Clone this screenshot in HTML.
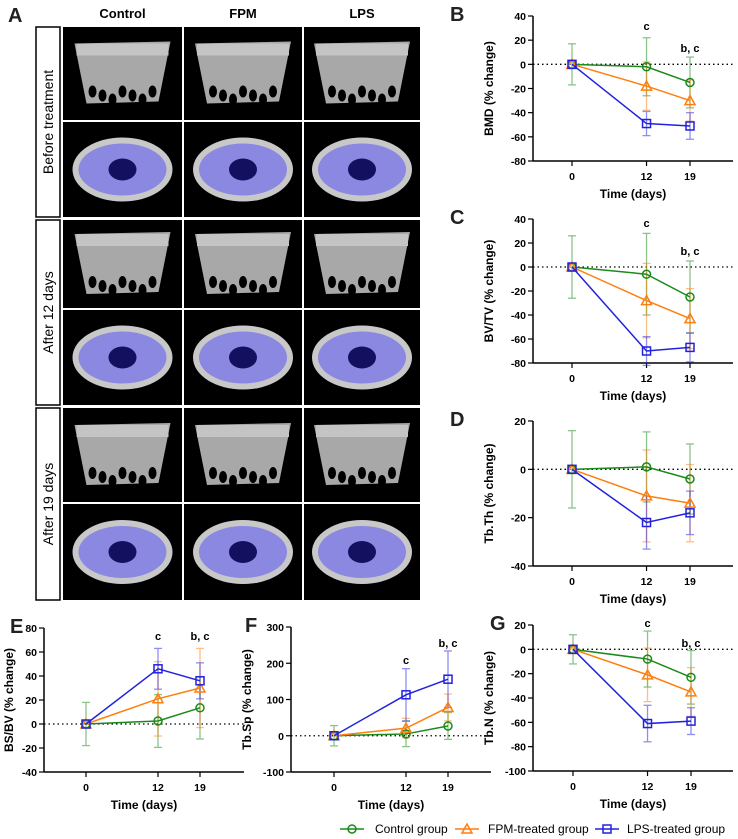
<!DOCTYPE html>
<html><head><meta charset="utf-8"><style>
body{margin:0;background:#fff;}
svg{display:block;font-family:"Liberation Sans",Arial,sans-serif;}
</style></head><body>
<svg id="fig" width="738" height="839" viewBox="0 0 738 839">
<g id="panelA"></g>
<g id="charts"></g>
<g id="legend" font-size="12">
 <g><line x1="340" y1="829" x2="364" y2="829" stroke="#1a8a1a" stroke-width="1.5"/><circle cx="352" cy="829" r="4" fill="none" stroke="#1a8a1a" stroke-width="1.5"/><text x="375" y="833">Control group</text></g>
 <g><line x1="455" y1="829" x2="479" y2="829" stroke="#ff7f0e" stroke-width="1.5"/><path d="M462,833 L467,824 L472,833 Z" fill="none" stroke="#ff7f0e" stroke-width="1.5"/><text x="488" y="833">FPM-treated group</text></g>
 <g><line x1="595" y1="829" x2="619" y2="829" stroke="#2222dd" stroke-width="1.5"/><rect x="603" y="825" width="8" height="8" fill="none" stroke="#2222dd" stroke-width="1.5"/><text x="627" y="833">LPS-treated group</text></g>
</g>
</svg>
<script>
const NS="http://www.w3.org/2000/svg";
function mk(tag,attrs,parent,txt){const e=document.createElementNS(NS,tag);for(const k in attrs)e.setAttribute(k,attrs[k]);if(txt!==undefined)e.textContent=txt;parent.appendChild(e);return e;}

// ---------- Panel A ----------
const A=document.getElementById('panelA');
let t=mk('text',{x:8,y:22,'font-size':20,'font-weight':'bold',fill:'#222'},A,'A');


const colNames=['Control','FPM','LPS'];
const colX=[63,184,304],colW=[119,118,116];
colNames.forEach((n,i)=>{const h=mk('text',{x:colX[i]+colW[i]/2,y:18,'font-size':13,'font-weight':'bold','text-anchor':'middle'},A,n);

});
const rowY=[[27,120],[122,217],[220,308],[310,405],[408,502],[504,600]];
const groups=[['Before treatment',27,217],['After 12 days',220,405],['After 19 days',408,600]];
groups.forEach((g,i)=>{const b=mk('rect',{x:36,y:g[1],width:24,height:g[2]-g[1],fill:'#fff',stroke:'#000','stroke-width':1.5},A);


const cy=(g[1]+g[2])/2;const tt=mk('text',{x:0,y:0,'font-size':14,'text-anchor':'middle',transform:`translate(53,${cy}) rotate(-90)`},A,g[0]);

});
rowY.forEach((r,ri)=>{colX.forEach((cx,ci)=>{
 const bg=mk('rect',{x:cx,y:r[0],width:colW[ci],height:r[1]-r[0],fill:'#000'},A);
 
 
 const mx=cx+colW[ci]/2,my=(r[0]+r[1])/2;
 if(ri%2===0){
  mk('path',{d:`M${mx-48},${my-30} L${mx+48},${my-32} L${mx+36},${my+28} L${mx-36},${my+30} Z`,fill:'#a8a8a8'},A);
  mk('rect',{x:mx-46,y:my-30,width:92,height:12,fill:'#c4c4c4'},A);
  for(let k=0;k<7;k++)mk('ellipse',{cx:mx-30+k*10,cy:my+18+(k%3)*4,rx:4,ry:6,fill:'#000'},A);
 }else{
  mk('ellipse',{cx:mx,cy:my,rx:50,ry:32,fill:'#c8c8c8'},A);
  mk('ellipse',{cx:mx,cy:my,rx:44,ry:26,fill:'#8a88e0'},A);
  mk('ellipse',{cx:mx,cy:my,rx:14,ry:11,fill:'#141060'},A);
 }
});});
[183,303].forEach(x=>mk('line',{x1:x,y1:27,x2:x,y2:600,stroke:'#fff','stroke-width':2},A));

// ---------- Chart data ----------
const days=[0,12,19];
const bmdCtrl=[0,-2,-15], bmdCtrlErr=[17,24,21];
const bmdFpm=[0,-18,-30], bmdFpmErr=[0,20,17];
const bmdLps=[0,-49,-51], bmdLpsErr=[0,10,11];
const bvCtrl=[0,-6,-25], bvCtrlErr=[26,34,30];
const bvFpm=[0,-28,-43], bvFpmErr=[0,31,25];
const bvLps=[0,-70,-67], bvLpsErr=[0,12,12];
const thCtrl=[0,1,-4], thCtrlErr=[16,14.5,14.5];
const thFpm=[0,-11,-14], thFpmErr=[0,19,16];
const thLps=[0,-22,-18], thLpsErr=[0,11,9];
const bsCtrl=[0,2.5,13.5], bsCtrlErr=[18,22,26];
const bsFpm=[0,21,30], bsFpmErr=[0,31,33];
const bsLps=[0,46,36], bsLpsErr=[0,17,15];
const spCtrl=[0,5,27], spCtrlErr=[28,35,37];
const spFpm=[0,21,78], spFpmErr=[0,27,37];
const spLps=[0,113,156], spLpsErr=[0,72,78];
const nCtrl=[0,-8,-23], nCtrlErr=[12,23,22];
const nFpm=[0,-21,-35], nFpmErr=[0,22,20];
const nLps=[0,-61,-59], nLpsErr=[0,15,11];
const ticksB=[40,20,0,-20,-40,-60,-80];
const ticksD=[20,0,-20,-40];
const ticksE=[80,60,40,20,0,-20,-40];
const ticksF=[300,200,100,0,-100];
const ticksG=[20,0,-20,-40,-60,-80,-100];

const colors={ctrl:'#1a8a1a',fpm:'#ff7f0e',lps:'#2222dd'};
const C=document.getElementById('charts');
function chart(o){
 const g=mk('g',{},C);
 
 
 const ymax=o.ticks[0],ymin=o.ticks[o.ticks.length-1];
 const ys=v=>o.yTop+(ymax-v)/(ymax-ymin)*(o.yBot-o.yTop);
 const xs=d=>o.x0+(d/19)*(o.x19-o.x0);
 const lab=mk('text',{x:o.ax-83+(o.lblDx||0),y:o.yTop+5,'font-size':20,'font-weight':'bold',fill:'#222'},g,o.id.toUpperCase());
 
 
 const ya=mk('line',{x1:o.ax,y1:o.yTop,x2:o.ax,y2:o.yBot,stroke:'#000','stroke-width':1.5},g);
 
 
 const xa=mk('line',{x1:o.ax,y1:o.yBot,x2:o.ax+200,y2:o.yBot,stroke:'#000','stroke-width':1.5},g);
 
 
 o.ticks.forEach(v=>{mk('line',{x1:o.ax-5,y1:ys(v),x2:o.ax,y2:ys(v),stroke:'#000','stroke-width':1.2},g);
  const tl=mk('text',{x:o.ax-7,y:ys(v)+4,'font-size':10.5,'font-weight':'bold','text-anchor':'end'},g,String(v));
  
  });
 days.forEach(d=>{mk('line',{x1:xs(d),y1:o.yBot,x2:xs(d),y2:o.yBot+5,stroke:'#000','stroke-width':1.2},g);
  const tl=mk('text',{x:xs(d),y:o.yBot+19,'font-size':10.5,'font-weight':'bold','text-anchor':'middle'},g,String(d));
  
  });
 const xt=mk('text',{x:o.ax+100,y:o.yBot+37,'font-size':12,'font-weight':'bold','text-anchor':'middle'},g,'Time (days)');
 
 
 const ytl=mk('text',{x:0,y:0,'font-size':12,'font-weight':'bold','text-anchor':'middle',transform:`translate(${o.ax-o.ytOff},${(o.yTop+o.yBot)/2}) rotate(-90)`},g,o.ylab);
 
 
 const zl=mk('line',{x1:o.ax,y1:ys(0),x2:o.ax+200,y2:ys(0),stroke:'#000','stroke-width':1.3,'stroke-dasharray':'1.5,3'},g);
 
 
 o.series.forEach(s=>{
  const col=colors[s.k];
  days.forEach((d,i)=>{if(s.err[i]>0){const x=xs(d);
   const eb=mk('g',{stroke:col,'stroke-width':1.3,opacity:0.5},g);
   
   
   mk('line',{x1:x,y1:ys(s.v[i]-s.err[i]),x2:x,y2:ys(s.v[i]+s.err[i])},eb);
   mk('line',{x1:x-4,y1:ys(s.v[i]-s.err[i]),x2:x+4,y2:ys(s.v[i]-s.err[i])},eb);
   mk('line',{x1:x-4,y1:ys(s.v[i]+s.err[i]),x2:x+4,y2:ys(s.v[i]+s.err[i])},eb);}});
 });
 o.series.forEach(s=>{
  const col=colors[s.k];
  const pl=mk('polyline',{points:days.map((d,i)=>xs(d)+','+ys(s.v[i])).join(' '),fill:'none',stroke:col,'stroke-width':1.5},g);
  
  
  days.forEach((d,i)=>{const x=xs(d),y=ys(s.v[i]);let m;
   if(s.k==='ctrl')m=mk('circle',{cx:x,cy:y,r:4,fill:'none',stroke:col,'stroke-width':1.5},g);
   else if(s.k==='fpm')m=mk('path',{d:`M${x-5},${y+4} L${x},${y-5} L${x+5},${y+4} Z`,fill:'none',stroke:col,'stroke-width':1.5},g);
   else m=mk('rect',{x:x-4,y:y-4,width:8,height:8,fill:'none',stroke:col,'stroke-width':1.5},g);
   
   });
 });
 if(o.ann){o.ann.forEach(a=>{const at=mk('text',{x:xs(a[0]),y:a[2],'font-size':11,'font-weight':'bold','text-anchor':'middle'},g,a[1]);
  
  });}
}
chart({id:'b',ax:533,x0:572,x19:690,yTop:16,yBot:161,ticks:ticksB,ylab:'BMD (% change)',ytOff:40,
 series:[{k:'ctrl',v:bmdCtrl,err:bmdCtrlErr},{k:'fpm',v:bmdFpm,err:bmdFpmErr},{k:'lps',v:bmdLps,err:bmdLpsErr}],ann:[[12,'c',30],[19,'b, c',52]]});
chart({id:'c',ax:533,x0:572,x19:690,yTop:219,yBot:363,ticks:ticksB,ylab:'BV/TV (% change)',ytOff:40,
 series:[{k:'ctrl',v:bvCtrl,err:bvCtrlErr},{k:'fpm',v:bvFpm,err:bvFpmErr},{k:'lps',v:bvLps,err:bvLpsErr}],ann:[[12,'c',227],[19,'b, c',255]]});
chart({id:'d',ax:533,x0:572,x19:690,yTop:421,yBot:566,ticks:ticksD,ylab:'Tb.Th (% change)',ytOff:40,
 series:[{k:'ctrl',v:thCtrl,err:thCtrlErr},{k:'fpm',v:thFpm,err:thFpmErr},{k:'lps',v:thLps,err:thLpsErr}]});
chart({id:'e',ax:44,x0:86,x19:200,yTop:628,yBot:772,ticks:ticksE,ylab:'BS/BV (% change)',lblDx:49,ytOff:31,
 series:[{k:'ctrl',v:bsCtrl,err:bsCtrlErr},{k:'fpm',v:bsFpm,err:bsFpmErr},{k:'lps',v:bsLps,err:bsLpsErr}],ann:[[12,'c',640],[19,'b, c',640]]});
chart({id:'f',ax:291,x0:334,x19:448,yTop:627,yBot:772,ticks:ticksF,ylab:'Tb.Sp (% change)',lblDx:37,ytOff:40,
 series:[{k:'ctrl',v:spCtrl,err:spCtrlErr},{k:'fpm',v:spFpm,err:spFpmErr},{k:'lps',v:spLps,err:spLpsErr}],ann:[[12,'c',664],[19,'b, c',647]]});
chart({id:'g',ax:533,x0:573,x19:691,yTop:625,yBot:771,ticks:ticksG,ylab:'Tb.N (% change)',lblDx:40,ytOff:40,
 series:[{k:'ctrl',v:nCtrl,err:nCtrlErr},{k:'fpm',v:nFpm,err:nFpmErr},{k:'lps',v:nLps,err:nLpsErr}],ann:[[12,'c',627],[19,'b, c',647]]});
</script>
</body></html>
